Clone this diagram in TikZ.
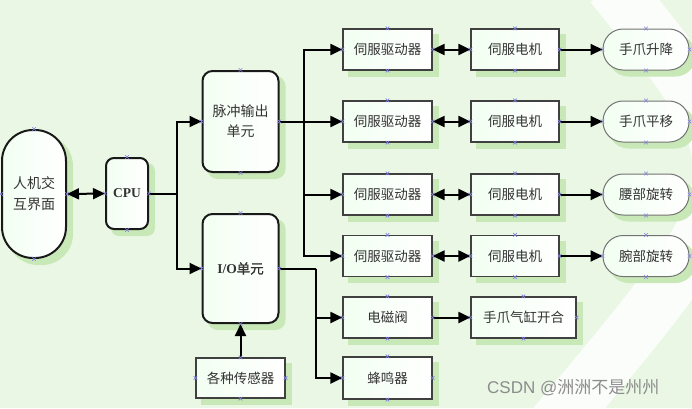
\documentclass[tikz,border=0pt]{standalone}
\usepackage{fontspec}
\setmainfont{Noto Sans CJK SC}
\newfontfamily\serifb{Liberation Serif}
\newfontfamily\cjkb[FakeBold=1.5]{Noto Sans CJK SC}
\newfontfamily\wmlatin{Liberation Sans}
\usetikzlibrary{arrows.meta,calc,backgrounds}
\pgfdeclarelayer{bgzero}
\pgfsetlayers{bgzero,background,main}
\definecolor{bggreen}{HTML}{EAF7E4}
\definecolor{shgreen}{HTML}{C9E8B8}
\definecolor{cpcol}{rgb}{0.5,0.5,0.88}
\definecolor{txt}{HTML}{333333}
\tikzset{
  base/.style={inner sep=0pt, align=center, text=txt,
    left color=green!5!white, right color=white,
    font=\fontsize{13.5}{20}\selectfont},
  box/.style={base, draw=black!75, line width=1.2pt, rectangle},
  rbox/.style={base, draw=black!90, line width=2pt, rectangle, rounded corners=10pt},
  stad/.style={base, draw=black!55, line width=1pt, rectangle, rounded corners=20pt},
  conn/.style={line width=2pt, black},
  arr/.style={conn, -{Triangle[length=12pt,width=11pt]}},
  dbl/.style={conn, {Triangle[length=12pt,width=11pt]}-{Triangle[length=12pt,width=11pt]}},
  cpx/.style={cpcol, line width=0.6pt},
  shad/.style={fill=shgreen}
}
\begin{document}
\begin{tikzpicture}[x=1pt,y=-1pt]
\begin{pgfonlayer}{bgzero}
\fill[bggreen] (0,0) rectangle (692,408);
\begin{scope}
\clip (0,0) rectangle (692,408);
\draw[white, line width=55pt, opacity=0.85] (612,-15) .. controls (765,175) .. (555,425);
\end{scope}
\end{pgfonlayer}
\useasboundingbox (0,0) rectangle (692,408);

% nodes
\node[rbox, rounded corners=31pt, minimum width=64pt, minimum height=128pt, font=\fontsize{14}{21}\selectfont] (hmi) at (34,194) {人机交\\互界面};
\node[rbox, rounded corners=8pt, minimum width=42pt, minimum height=71pt] (cpu) at (127,193.5) {\serifb\bfseries CPU};
\node[rbox, minimum width=76pt, minimum height=101pt, font=\fontsize{14}{20}\selectfont] (pulse) at (240.5,121.5) {脉冲输出\\单元};
\node[rbox, minimum width=76pt, minimum height=109pt] (io) at (240.5,268.5) {{\serifb\bfseries I/O}{\cjkb 单元}};
\node[box, minimum width=89pt, minimum height=40pt] (sensor) at (240.5,378) {各种传感器};

\foreach \i/\y in {1/49.5, 2/121.5, 3/194.5, 4/256} {
  \node[box, minimum width=89pt, minimum height=41pt] (drv\i) at (387.5,\y) {伺服驱动器};
  \node[box, minimum width=88pt, minimum height=41pt] (mot\i) at (515,\y) {伺服电机};
}
\node[stad, minimum width=86pt, minimum height=41pt] (hand1) at (646,49.5) {手爪升降};
\node[stad, minimum width=86pt, minimum height=41pt] (hand2) at (646,121.5) {手爪平移};
\node[stad, minimum width=86pt, minimum height=41pt] (hand3) at (646,194.5) {腰部旋转};
\node[stad, minimum width=86pt, minimum height=41pt] (hand4) at (646,256) {腕部旋转};

\node[box, minimum width=89pt, minimum height=41pt] (valve) at (387.5,317.5) {电磁阀};
\node[box, minimum width=105pt, minimum height=41pt] (cyl) at (523.5,317.5) {手爪气缸开合};
\node[box, minimum width=89pt, minimum height=42pt] (buzz) at (387.5,378) {蜂鸣器};

% shadows
\begin{pgfonlayer}{background}
\foreach \n/\r in {hmi/31,cpu/8,pulse/10,io/10,sensor/0,drv1/0,drv2/0,drv3/0,drv4/0,mot1/0,mot2/0,mot3/0,mot4/0,hand1/20,hand2/20,hand3/20,hand4/20,valve/0,cyl/0,buzz/0} {
  \fill[shad, rounded corners=\r pt] ($(\n.south west)+(6,6)$) rectangle ($(\n.north east)+(6,6)$);
}
\end{pgfonlayer}

% connectors
\draw[dbl] (hmi.east) -- (cpu.west);
\coordinate (j1) at (177,193.5);
\draw[conn] (cpu.east) -- (j1);
\draw[arr] (j1) |- (pulse.west);
\draw[arr] (j1) |- (io.west);

\coordinate (j2) at (304,121.5);
\draw[arr] (pulse.east) -- (drv2.west);
\draw[arr] (j2) |- (drv1.west);
\draw[arr] (j2) |- (drv3.west);
\draw[arr] (j2) |- (drv4.west);

\foreach \i in {1,2,3,4} {
  \draw[dbl] (drv\i.east) -- (mot\i.west);
  \draw[arr] (mot\i.east) -- (hand\i.west);
}

\coordinate (j3) at (316,268.5);
\draw[conn] (io.east) -- (j3);
\draw[arr] (j3) |- (valve.west);
\draw[arr] (j3) |- (buzz.west);
\draw[arr] (valve.east) -- (cyl.west);
\draw[arr] (sensor.north) -- (io.south);

% connection point markers
\foreach \n in {hmi,cpu,pulse,io,sensor,drv1,drv2,drv3,drv4,mot1,mot2,mot3,mot4,hand1,hand2,hand3,hand4,valve,cyl,buzz} {
  \foreach \a in {north,south,east,west} {
    \draw[cpx] ($(\n.\a)+(-1.8,-1.8)$) -- ++(3.6,3.6);
    \draw[cpx] ($(\n.\a)+(-1.8,1.8)$) -- ++(3.6,-3.6);
  }
}

% watermark
\node[anchor=west, inner sep=0pt, text=black!45, font=\fontsize{17}{20}\selectfont] (wm) at (487,388) {{\wmlatin CSDN @}洲洲不是州州};
\end{tikzpicture}
\end{document}
